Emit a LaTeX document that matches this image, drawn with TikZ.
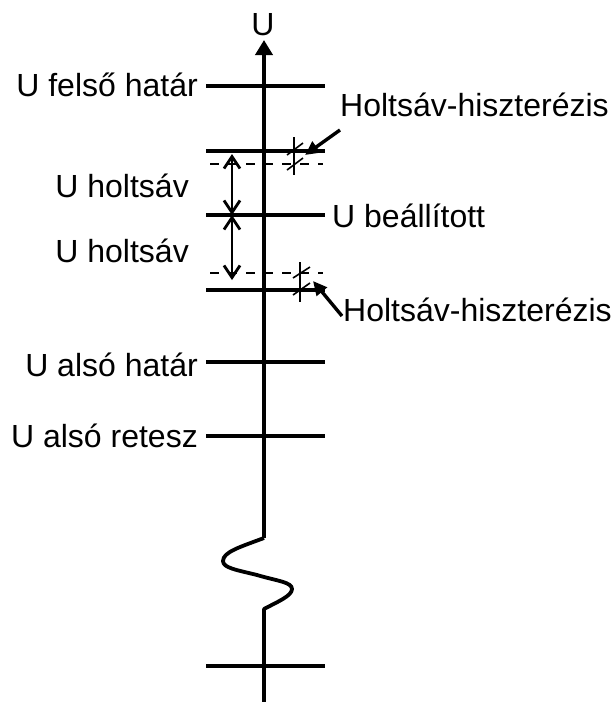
\documentclass[tikz,border=0pt]{standalone}
\usepackage{fontspec}
\setmainfont{Liberation Sans}
\usetikzlibrary{arrows.meta}

\begin{document}
\begin{tikzpicture}[x=1pt,y=-1pt,
  level/.style={line width=3.8pt},
  halflevel/.style={line width=2.3pt, dash pattern=on 9pt off 9pt},
  lbl/.style={inner sep=0pt, font=\fontsize{32}{38}\selectfont},
  band/.style={line width=2.5pt, {Straight Barb[length=12pt,width=16pt,line width=2.8pt]}-{Straight Barb[length=12pt,width=16pt,line width=2.8pt]}},
  tick/.style={line width=1.6pt},
  pointer/.style={line width=3.4pt, -{Triangle[length=14pt,width=13pt]}}]
\useasboundingbox (0,0) rectangle (614,702);

% vertical voltage axis with the break
\coordinate (axtop) at (264,40);
\coordinate (brkA) at (264,538);
\coordinate (brkE) at (264,609);
\coordinate (axbot) at (264,702);
\draw[line width=4pt, -{Triangle[length=15pt,width=17pt]}] (brkA) -- (axtop);
\draw[line width=3.8pt, line join=round] (brkA)
  .. controls (240,547) and (223,552) .. (223,561)
  .. controls (223,568) and (237,570) .. (257,575)
  .. controls (277,581) and (292,582) .. (292,589)
  .. controls (292,596) and (277,602) .. (brkE) -- (axbot);
\node[lbl, anchor=base] (uax) at (263,35) {U};

% levels
\node[lbl, anchor=base east] (felso) at (198,96) {U felső határ};
\coordinate (felsoL) at (206,86);  \coordinate (felsoR) at (325,86);
\draw[level] (felsoL) -- (felsoR);

\coordinate (hfL) at (206,151);  \coordinate (hfR) at (325,151);
\draw[level] (hfL) -- (hfR);
\coordinate (dfL) at (210,164);  \coordinate (dfR) at (323,164);
\draw[halflevel] (dfL) -- (dfR);

\coordinate (setL) at (206,215);  \coordinate (setR) at (325,215);
\draw[level] (setL) -- (setR);
\node[lbl, anchor=base west] (beall) at (332,227) {U beállított};

\coordinate (daL) at (210,273);  \coordinate (daR) at (323,273);
\draw[halflevel] (daL) -- (daR);
\coordinate (haL) at (206,290);  \coordinate (haR) at (325,290);
\draw[level] (haL) -- (haR);

\node[lbl, anchor=base east] (also) at (198,376) {U alsó határ};
\coordinate (alsoL) at (206,362);  \coordinate (alsoR) at (325,362);
\draw[level] (alsoL) -- (alsoR);

\node[lbl, anchor=base east] (retesz) at (198,447) {U alsó retesz};
\coordinate (reteszL) at (206,436);  \coordinate (reteszR) at (325,436);
\draw[level] (reteszL) -- (reteszR);

\coordinate (botL) at (206,666);  \coordinate (botR) at (325,666);
\draw[level] (botL) -- (botR);

% dead band spans
\node[lbl, anchor=base east] (hb1) at (189,197) {U holtsáv};
\node[lbl, anchor=base east] (hb2) at (189,262) {U holtsáv};
\coordinate (b1top) at (232,154);
\coordinate (bmid) at (232,215);
\coordinate (b2bot) at (232,280);
\draw[band] (b1top) -- (bmid);
\draw[band] (bmid) -- (b2bot);

% hysteresis marks
\draw[tick] (294,137) -- (294,175);
\draw[tick] (287,155) -- (303,143);
\draw[tick] (287,170) -- (303,158);
\draw[tick] (300,262) -- (300,302);
\draw[tick] (293,278) -- (310,267);
\draw[tick] (293,295) -- (310,283);

\node[lbl, anchor=base west] (hyst1) at (340,116) {Holtsáv-hiszterézis};
\node[lbl, anchor=base west] (hyst2) at (343,321) {Holtsáv-hiszterézis};
\coordinate (p1tail) at (340,130);  \coordinate (p1tip) at (305,155);
\coordinate (p2tail) at (342,316);  \coordinate (p2tip) at (313,281);
\draw[pointer] (p1tail) -- (p1tip);
\draw[pointer] (p2tail) -- (p2tip);
\end{tikzpicture}
\end{document}
